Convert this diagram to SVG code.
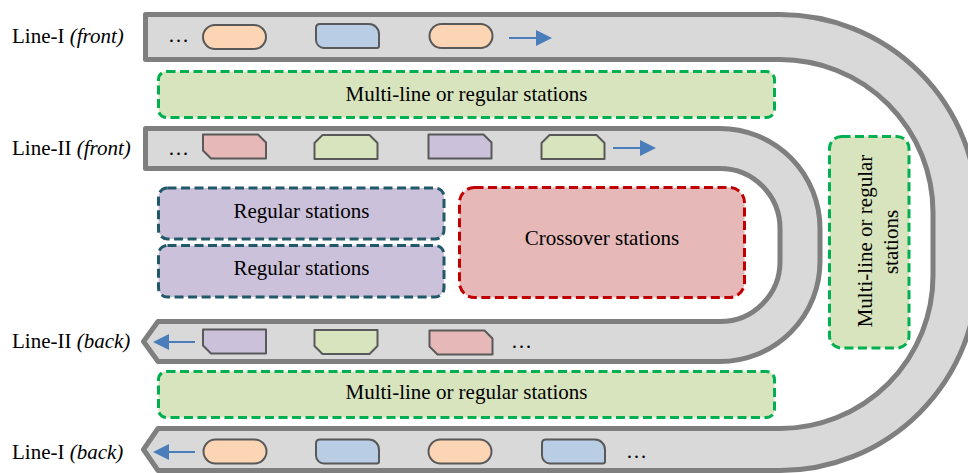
<svg xmlns="http://www.w3.org/2000/svg" xmlns:xlink="http://www.w3.org/1999/xlink" width="968" height="473" viewBox="0 0 968 473">
<style>
text{font-family:"Liberation Serif","Times New Roman",serif;font-size:21px;fill:#000}
.it{font-style:italic}
.track{fill:#d9d9d9;stroke:#7f7f7f;stroke-width:5;stroke-linejoin:round}
.box{stroke-width:3;stroke-dasharray:9 4.5}
.green{fill:#d7e4bd;stroke:#00b050}
.purple{fill:#ccc1da;stroke:#215968}
.red{fill:#e6b9b8;stroke:#c00000}
.veh{stroke:#595959;stroke-width:2;stroke-linejoin:round}
.vo{fill:#fcd5b5}
.vb{fill:#b9cde5}
.vr{fill:#e6b9b8}
.vg{fill:#d7e4bd}
.vp{fill:#ccc1da}
.arr{stroke:#4a7ebb;stroke-width:2;fill:none}
</style>
<defs>
<marker id="ah" viewBox="0 0 16 16" refX="0" refY="8" markerWidth="16" markerHeight="16" orient="auto" markerUnits="userSpaceOnUse"><path d="M0,0 L16,8 L0,16 Z" fill="#4a7ebb"/></marker>
<rect id="pill" x="0" y="0" width="63" height="24" rx="12" ry="12"/>
<path id="rdiag" d="M4,0 H53 A10,10 0 0 1 63,10 V22 Q63,24 61,24 H8 A8,8 0 0 1 0,16 V4 Q0,0 4,0 Z"/>
<path id="snipTRBL" d="M0,0 H55 L63,8 V24 H8 L0,16 Z"/>
<path id="snipTop" d="M8,0 H55 L63,8 V24 H0 V8 Z"/>
<path id="snipTR" d="M0,0 H55 L63,8 V24 H0 Z"/>
<path id="snipBL" d="M0,0 H63 V24 H8 L0,16 Z"/>
<path id="snipBottom" d="M0,0 H63 V16 L55,24 H8 L0,16 Z"/>
</defs>

<g id="line-I-track">
<path class="track" d="M145.5,14.5 H780 A197.5,197.5 0 0 1 977.5,212 V273 A197.5,197.5 0 0 1 780,470.5 H158 L143.5,449.5 L158,428.5 H780 A153,153 0 0 0 933,275.5 V212.5 A153,153 0 0 0 780,59.5 H145.5 Z"/>
</g>
<g id="line-II-track">
<path class="track" d="M145.5,128.5 H720 A100,100 0 0 1 820,228.5 V261.5 A100,100 0 0 1 720,361.5 H158 L143.5,341.5 L158,321.5 H720 A60,60 0 0 0 780,261.5 V228.5 A60,60 0 0 0 720,168.5 H145.5 Z"/>
</g>

<g id="label-line-I-front"><text x="12" y="43">Line-I <tspan class="it">(front)</tspan></text></g>
<g id="label-line-II-front"><text x="12" y="155">Line-II <tspan class="it">(front)</tspan></text></g>
<g id="label-line-II-back"><text x="12" y="348">Line-II <tspan class="it">(back)</tspan></text></g>
<g id="label-line-I-back"><text x="12" y="459">Line-I <tspan class="it">(back)</tspan></text></g>

<g id="station-multi-top">
<rect class="box green" x="158.5" y="71.5" width="616" height="46" rx="8"/>
<text x="466.5" y="101" text-anchor="middle">Multi-line or regular stations</text>
</g>
<g id="station-regular-1">
<rect class="box purple" x="158.5" y="188" width="285.5" height="51" rx="9"/>
<text x="301.5" y="218" text-anchor="middle">Regular stations</text>
</g>
<g id="station-regular-2">
<rect class="box purple" x="158.5" y="245.5" width="285.5" height="51.5" rx="9"/>
<text x="301.5" y="275" text-anchor="middle">Regular stations</text>
</g>
<g id="station-crossover">
<rect class="box red" x="459.5" y="187.5" width="285" height="110" rx="15"/>
<text x="602" y="245" text-anchor="middle">Crossover stations</text>
</g>
<g id="station-multi-right">
<rect class="box green" x="829.5" y="136.5" width="79.5" height="211.5" rx="12"/>
<text transform="translate(872,241) rotate(-90)" text-anchor="middle">Multi-line or regular</text>
<text transform="translate(898,242) rotate(-90)" text-anchor="middle">stations</text>
</g>
<g id="station-multi-bottom">
<rect class="box green" x="158.5" y="371.5" width="616" height="46" rx="8"/>
<text x="466.5" y="399" text-anchor="middle">Multi-line or regular stations</text>
</g>

<g id="vehicles-line-I-front">
<text x="168" y="42">…</text>
<use xlink:href="#pill" class="veh vo" x="203" y="25"/>
<use xlink:href="#rdiag" class="veh vb" x="316" y="24"/>
<use xlink:href="#pill" class="veh vo" x="429.5" y="24"/>
</g>
<g id="vehicles-line-II-front">
<text x="168" y="155">…</text>
<use xlink:href="#snipTRBL" class="veh vr" x="203" y="134.5"/>
<use xlink:href="#snipTop" class="veh vg" x="314.5" y="135"/>
<use xlink:href="#snipTR" class="veh vp" x="428.5" y="134.5"/>
<use xlink:href="#snipTop" class="veh vg" x="541.5" y="135"/>
</g>
<g id="vehicles-line-II-back">
<use xlink:href="#snipBL" class="veh vp" x="203" y="329.5"/>
<use xlink:href="#snipBottom" class="veh vg" x="314.5" y="330"/>
<use xlink:href="#snipTRBL" class="veh vr" x="429.5" y="330.5"/>
<text x="511" y="348">…</text>
</g>
<g id="vehicles-line-I-back">
<use xlink:href="#pill" class="veh vo" x="203.5" y="439.5"/>
<use xlink:href="#rdiag" class="veh vb" x="316" y="439.5"/>
<use xlink:href="#pill" class="veh vo" x="428.5" y="439.5"/>
<use xlink:href="#rdiag" class="veh vb" x="542" y="439.5"/>
<text x="626" y="458">…</text>
</g>

<g id="connectors">
<line class="arr" x1="509" y1="38" x2="536" y2="38" marker-end="url(#ah)"/>
<line class="arr" x1="613" y1="148" x2="640" y2="148" marker-end="url(#ah)"/>
<line class="arr" x1="195" y1="342" x2="169" y2="342" marker-end="url(#ah)"/>
<line class="arr" x1="195" y1="452" x2="169" y2="452" marker-end="url(#ah)"/>
</g>
</svg>
